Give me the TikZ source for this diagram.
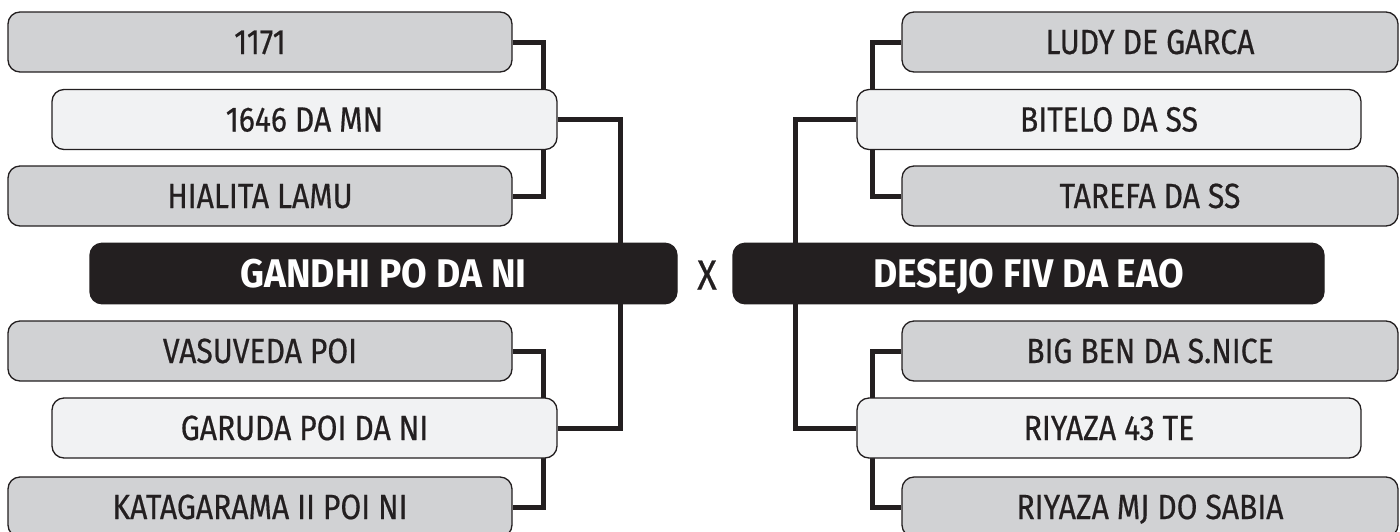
\documentclass[tikz,border=0pt]{standalone}
\usepackage{fontspec}
\setmainfont{Fira Sans}[FakeStretch=0.86]
\newfontfamily\boxfont{Fira Sans}[FakeStretch=0.86, FakeBold=0.5]
\newfontfamily\headfont{Fira Sans Bold}[FakeStretch=0.93]
\definecolor{ink}{HTML}{231F20}
\definecolor{grayfill}{HTML}{D1D2D4}
\definecolor{lightfill}{HTML}{F1F2F3}
\tikzset{
  basebox/.style={draw=ink, line width=1.3pt, rounded corners=12pt, inner sep=0pt,
    minimum height=60pt, text=ink, font=\boxfont\fontsize{35}{38}\selectfont,
    text height=24pt, text depth=0pt},
  graybox/.style={basebox, fill=grayfill},
  lightbox/.style={basebox, fill=lightfill},
  darkbox/.style={basebox, fill=ink, text=white, minimum height=60.5pt,
    font=\headfont\fontsize{40}{44}\selectfont, text height=27.5pt},
  link/.style={draw=ink, line width=5pt, line join=miter}
}
\begin{document}
\begin{tikzpicture}[x=1pt, y=-1pt]
\useasboundingbox (0,0) rectangle (1400,531);
% junction coordinates
\coordinate (jl) at (543,0);
\coordinate (ml) at (620,0);
\coordinate (jr) at (872,0);
\coordinate (mr) at (795,0);
% outer boxes
\path
  node[graybox, minimum width=504pt] (a1) at (260,42) {1171}
  node[graybox, minimum width=504pt] (a3) at (260,196) {HIALITA LAMU}
  node[graybox, minimum width=504pt] (a4) at (260,351) {VASUVEDA POI}
  node[graybox, minimum width=504pt] (a6) at (260,507) {KATAGARAMA II POI NI}
  node[graybox, minimum width=496pt] (b1) at (1150,42) {LUDY DE GARCA}
  node[graybox, minimum width=496pt] (b3) at (1150,196) {TAREFA DA SS}
  node[graybox, minimum width=496pt] (b4) at (1150,351) {BIG BEN DA S.NICE}
  node[graybox, minimum width=496pt] (b6) at (1150,507) {RIYAZA MJ DO SABIA};
% connectors between outer boxes (behind middle boxes)
\draw[link] (a1.east) -- (a1.east -| jl) -- (a3.east -| jl) -- (a3.east);
\draw[link] (a4.east) -- (a4.east -| jl) -- (a6.east -| jl) -- (a6.east);
\draw[link] (b1.west) -- (b1.west -| jr) -- (b3.west -| jr) -- (b3.west);
\draw[link] (b4.west) -- (b4.west -| jr) -- (b6.west -| jr) -- (b6.west);
% middle boxes
\path
  node[lightbox, minimum width=505pt] (a2) at (304.5,119.5) {1646 DA MN}
  node[lightbox, minimum width=505pt] (a5) at (304.5,428) {GARUDA POI DA NI}
  node[lightbox, minimum width=504pt] (b2) at (1109,119.5) {BITELO DA SS}
  node[lightbox, minimum width=504pt] (b5) at (1109,428) {RIYAZA 43 TE};
% main connectors
\draw[link] (a2.east) -- (a2.east -| ml) -- (a5.east -| ml) -- (a5.east);
\draw[link] (b2.west) -- (b2.west -| mr) -- (b5.west -| mr) -- (b5.west);
% finalists
\node[darkbox, minimum width=587pt] (gl) at (383.5,273.5) {GANDHI PO DA NI};
\node[darkbox, minimum width=591pt] (gr) at (1028.5,273.5) {DESEJO FIV DA EAO};
\node[text=ink, font=\boxfont\fontsize{42}{46}\selectfont, inner sep=0pt, text height=29pt, text depth=0pt] (vs) at (707,275) {X};
\end{tikzpicture}
\end{document}
